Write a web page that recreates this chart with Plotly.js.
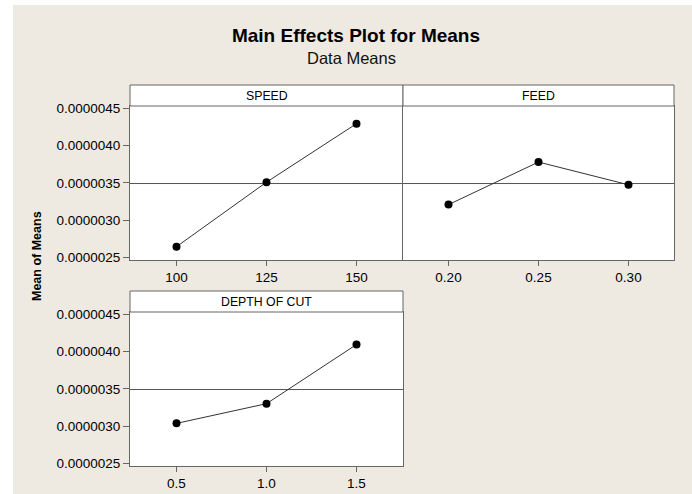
<!DOCTYPE html>
<html>
<head>
<meta charset="utf-8">
<script src="https://cdn.plot.ly/plotly-3.0.1.min.js"></script>
<style>html,body{margin:0;padding:0;background:#fff;}#chart{width:692px;height:494px;}</style>
</head>
<body>
<div id="chart"></div>
<script>
// ---- data ----
const speedLevels = [100, 125, 150];
const speedMeans  = [2.643e-6, 3.508e-6, 4.293e-6];
const feedLevels  = [0.20, 0.25, 0.30];
const feedMeans   = [3.207e-6, 3.778e-6, 3.473e-6];
const docLevels   = [0.5, 1.0, 1.5];
const docMeans    = [3.036e-6, 3.300e-6, 4.094e-6];
const grandMean   = 3.49e-6;
const yTickVals   = [2.5e-6, 3.0e-6, 3.5e-6, 4.0e-6, 4.5e-6];
const yTickText   = ['0.0000025', '0.0000030', '0.0000035', '0.0000040', '0.0000045'];
const speedTickText = ['100', '125', '150'];
const feedTickText  = ['0.20', '0.25', '0.30'];
const docTickText   = ['0.5', '1.0', '1.5'];
const panelTitles = ['SPEED', 'FEED', 'DEPTH OF CUT'];

// ---- layout helpers ----
const W = 692, H = 494;
const px = v => v / W;
const py = v => 1 - v / H;
const FONT = 'Liberation Sans, Arial, sans-serif';
const BG = '#eeeae1';
const LINE = '#666666';

function trace(x, y, xa, ya) {
  return {
    x: x, y: y, xaxis: xa, yaxis: ya, type: 'scatter', mode: 'lines+markers',
    line: {color: '#333', width: 1},
    marker: {color: '#000', size: 8},
    hoverinfo: 'x+y', showlegend: false
  };
}

const data = [
  trace(speedLevels, speedMeans, 'x', 'y'),
  trace(feedLevels, feedMeans, 'x2', 'y2'),
  trace(docLevels, docMeans, 'x3', 'y3')
];

const yRange = [2.464e-6, 4.53e-6];
const tickFont = {family: FONT, size: 13.5, color: '#000'};

function xAxis(domain, anchor, vals, text, range) {
  return {
    domain: domain, anchor: anchor, range: range,
    tickmode: 'array', tickvals: vals, ticktext: text,
    ticks: 'outside', ticklen: 5, tickwidth: 1, tickcolor: LINE,
    showline: true, mirror: true, linecolor: LINE, linewidth: 1,
    showgrid: false, zeroline: false, tickfont: tickFont, fixedrange: true
  };
}
function yAxis(domain, anchor, labels, mirror) {
  return {
    domain: domain, anchor: anchor, range: yRange,
    tickmode: 'array', tickvals: yTickVals, ticktext: yTickText,
    ticks: labels ? 'outside' : '', ticklen: 6, tickwidth: 1, tickcolor: LINE,
    showticklabels: labels,
    showline: true, mirror: mirror, linecolor: LINE, linewidth: 1,
    side: 'left',
    showgrid: false, zeroline: false, tickfont: tickFont, fixedrange: true
  };
}

const d1x = [px(130), px(403)];
const d2x = [px(403), px(674)];
const topY = [py(260), py(106)];
const botY = [py(466), py(312)];

function strip(x0, x1, y0, y1) {
  return {type: 'rect', xref: 'paper', yref: 'paper', x0: px(x0), x1: px(x1), y0: py(y1), y1: py(y0),
          fillcolor: '#fff', line: {color: LINE, width: 1}, layer: 'above'};
}
function meanLine(xa, ya) {
  return {type: 'line', xref: xa + ' domain', yref: ya, x0: 0, x1: 1, y0: grandMean, y1: grandMean,
          line: {color: '#555', width: 1}, layer: 'below'};
}

// panel 1 draws only its left border; panel 2's left edge is drawn once by panel 2
const yax1 = yAxis(topY, 'x', true, false);
const yax2 = yAxis(topY, 'x2', false, true);
const yax3 = yAxis(botY, 'x3', true, true);

const layout = {
  width: W, height: H,
  margin: {l: 0, r: 0, t: 0, b: 0},
  paper_bgcolor: BG, plot_bgcolor: '#fff',
  showlegend: false,
  title: {text: '<b>Main Effects Plot for Means</b>', x: px(356), xanchor: 'center',
          y: py(35), yanchor: 'middle', font: {family: FONT, size: 19, color: '#000'}},
  xaxis:  xAxis(d1x, 'y',  speedLevels, speedTickText, [87.08, 162.92]),
  yaxis:  yax1,
  xaxis2: xAxis(d2x, 'y2', feedLevels, feedTickText, [0.17472, 0.32528]),
  yaxis2: yax2,
  xaxis3: xAxis(d1x, 'y3', docLevels, docTickText, [0.2417, 1.7583]),
  yaxis3: yax3,
  shapes: [
    {type: 'rect', xref: 'paper', yref: 'paper', x0: 0, x1: px(13), y0: 0, y1: 1, fillcolor: '#fff', line: {width: 0}},
    {type: 'rect', xref: 'paper', yref: 'paper', x0: 0, x1: 1, y0: py(5), y1: 1, fillcolor: '#fff', line: {width: 0}},
    strip(130, 403, 85, 106),
    strip(403, 674, 85, 106),
    strip(130, 403, 291, 312),
    meanLine('x', 'y'), meanLine('x2', 'y2'), meanLine('x3', 'y3')
  ],
  annotations: [
    {text: 'Data Means', xref: 'paper', yref: 'paper', x: px(351), y: py(58), xanchor: 'center', yanchor: 'middle',
     showarrow: false, font: {family: FONT, size: 16.5, color: '#111'}},
    {text: '<b>Mean of Means</b>', xref: 'paper', yref: 'paper', x: px(37), y: py(256), xanchor: 'center', yanchor: 'middle',
     textangle: -90, showarrow: false, font: {family: FONT, size: 12.5, color: '#000'}},
    {text: panelTitles[0], xref: 'paper', yref: 'paper', x: px(266.5), y: py(95.5), xanchor: 'center', yanchor: 'middle',
     showarrow: false, font: {family: FONT, size: 12.3, color: '#000'}},
    {text: panelTitles[1], xref: 'paper', yref: 'paper', x: px(538.5), y: py(95.5), xanchor: 'center', yanchor: 'middle',
     showarrow: false, font: {family: FONT, size: 12.3, color: '#000'}},
    {text: panelTitles[2], xref: 'paper', yref: 'paper', x: px(266.5), y: py(301.5), xanchor: 'center', yanchor: 'middle',
     showarrow: false, font: {family: FONT, size: 12.3, color: '#000'}}
  ]
};

Plotly.newPlot('chart', data, layout, {displayModeBar: false, staticPlot: true});
</script>
</body>
</html>
